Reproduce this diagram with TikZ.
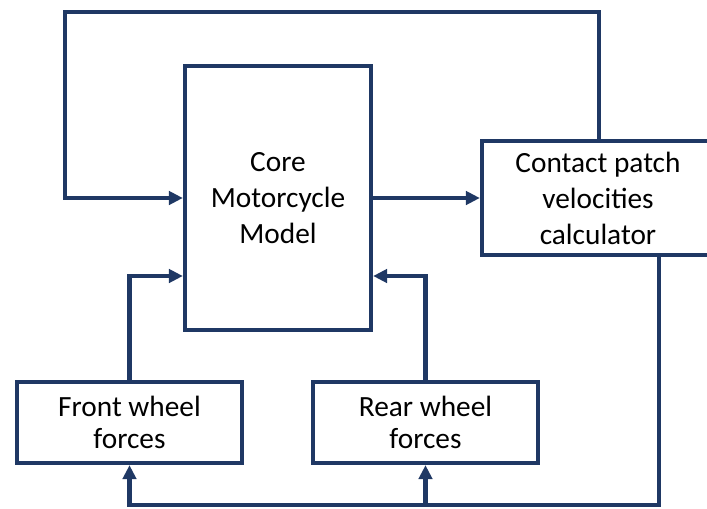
\documentclass[tikz,border=0pt]{standalone}
\usepackage{fontspec}
\setmainfont{Carlito}
\usetikzlibrary{arrows.meta,calc}
\definecolor{navy}{RGB}{31,56,100}
\tikzset{
  x=0.75pt, y=-0.75pt,
  block/.style={draw=navy, line width=3.2pt, fill=white, align=center,
    inner sep=0pt, font=\fontsize{22}{27}\selectfont, text=black},
  wheelbox/.style={block, font=\fontsize{22}{23.5}\selectfont,
    minimum width=168.75pt, minimum height=60.75pt},
  link/.style={draw=navy, line width=3.2pt,
    -{Triangle[length=10.5pt,width=10pt]}}
}
\begin{document}
\begin{tikzpicture}
  \clip (0,0) rectangle (707,508);
  \fill[white] (0,0) rectangle (707,508);

  % blocks
  \node[block, minimum width=139.5pt, minimum height=198pt] (core) at (278,198)
    {Core\\Motorcycle\\Model};
  \node[block, minimum width=174pt, minimum height=85.5pt] (contact) at (598,198)
    {Contact patch\\velocities\\calculator};
  \node[wheelbox] (front) at (129.5,422.5) {Front wheel\\forces};
  \node[wheelbox] (rear) at (425.5,422.5) {Rear wheel\\forces};

  % routing points
  \coordinate (tr) at (599,12);
  \coordinate (tl) at (65,12);
  \coordinate (fy) at (0,276);
  \coordinate (br) at (659,505);

  % feedback loop over the top
  \draw[link] (contact.north -| tr) -- (tr) -- (tl) |- (core.west);
  % core output to the calculator
  \draw[link] (core.east) -- (contact.west);
  % wheel forces into the core
  \draw[link] (front.north) |- (core.west |- fy);
  \draw[link] (rear.north) |- (core.east |- fy);
  % velocities back to the wheel force blocks
  \draw[link] (contact.south -| br) -- (br) -| (front.south);
  \draw[link] (rear.south |- br) -- (rear.south);
\end{tikzpicture}
\end{document}
